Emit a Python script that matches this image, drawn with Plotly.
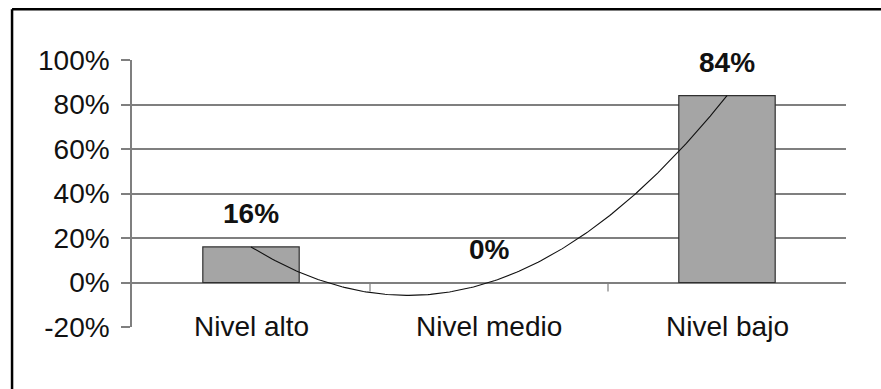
import numpy as np
import plotly.graph_objects as go

# Distribution of levels (share of respondents)
categories = ["Nivel alto", "Nivel medio", "Nivel bajo"]
shares = [0.16, 0.00, 0.84]
tick_values = [-0.2, 0.0, 0.2, 0.4, 0.6, 0.8, 1.0]
tick_labels = ["-20%", "0%", "20%", "40%", "60%", "80%", "100%"]

FONT = "Liberation Sans, Arial, sans-serif"
GRID = "#7f7f7f"
SIZE = 28

xpos = np.arange(1, len(categories) + 1)

# Second-order polynomial trend through the bar values
coef = np.polyfit(xpos, shares, 2)
xs = np.linspace(xpos[0], xpos[-1], 200)
ys = np.polyval(coef, xs)

# Empty bars get no outline
outline_w = [1.2 if v != 0 else 0 for v in shares]

fig = go.Figure()
fig.add_trace(go.Bar(
    x=xpos, y=shares, width=0.405,
    marker=dict(color="#a5a5a5", line=dict(color="#303030", width=outline_w)),
    hoverinfo="skip",
))
fig.add_trace(go.Scatter(
    x=xs, y=ys, mode="lines",
    line=dict(color="#111111", width=1.1),
    hoverinfo="skip",
))

# Value labels above each bar
for xv, v in zip(xpos, shares):
    fig.add_annotation(
        x=xv, y=v, xref="x", yref="y", text=f"<b>{v:.0%}</b>",
        showarrow=False, yanchor="middle", yshift=33,
        font=dict(family=FONT, size=SIZE, color="#111111"),
    )

# Category names along the bottom
for xv, name in zip(xpos, categories):
    fig.add_annotation(
        x=xv, y=tick_values[0], xref="x", yref="y", text=name,
        showarrow=False, yanchor="middle", yshift=1,
        font=dict(family=FONT, size=SIZE, color="#111111"),
    )

# Category separator ticks hanging from the zero line
for xb in xpos[:-1] + 0.5:
    fig.add_shape(type="line", xref="x", yref="y",
                  x0=xb, x1=xb, y0=0, y1=-0.04,
                  line=dict(color=GRID, width=1.2))

# Frame around the chart (left and top edges)
fig.add_shape(type="line", xref="paper", yref="paper",
              x0=-0.168, x1=-0.168, y0=-0.3, y1=1.19,
              line=dict(color="#000000", width=2.5))
fig.add_shape(type="line", xref="paper", yref="paper",
              x0=-0.168, x1=1.1, y0=1.19, y1=1.19,
              line=dict(color="#000000", width=2.5))

fig.update_layout(
    width=881, height=389,
    margin=dict(l=132, r=35, t=60, b=62),
    paper_bgcolor="white", plot_bgcolor="white",
    showlegend=False,
    font=dict(family=FONT, size=SIZE, color="#111111"),
)
fig.update_xaxes(
    range=[0.5, 3.5], showticklabels=False, showgrid=False,
    zeroline=False, showline=False, ticks="",
)
fig.update_yaxes(
    range=[-0.2, 1.0], tickvals=tick_values, ticktext=tick_labels,
    showgrid=True, gridcolor=GRID, gridwidth=1.5,
    zeroline=False, showline=True, linecolor=GRID, linewidth=1.5,
    ticks="outside", ticklen=9, tickcolor=GRID, tickwidth=1.5,
    ticklabelstandoff=6,
    tickfont=dict(family=FONT, size=SIZE, color="#111111"),
)

fig.write_html("out.html")
